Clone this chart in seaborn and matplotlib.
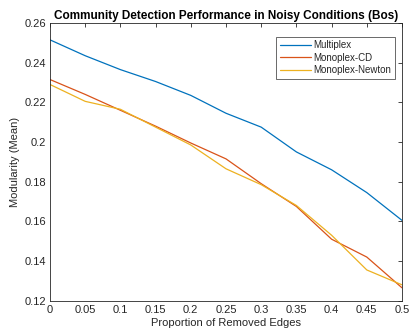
import matplotlib
matplotlib.use("Agg")
import matplotlib.pyplot as plt
import seaborn as sns
import pandas as pd

proportion = [0.0, 0.05, 0.1, 0.15, 0.2, 0.25, 0.3, 0.35, 0.4, 0.45, 0.5]
multiplex = [0.2515, 0.2435, 0.2365, 0.2305, 0.2235, 0.2145, 0.2075, 0.1950, 0.1860, 0.1745, 0.1605]
monoplex_cd = [0.2315, 0.2240, 0.2160, 0.2080, 0.1995, 0.1915, 0.1790, 0.1675, 0.1510, 0.1420, 0.1265]
monoplex_newton = [0.2290, 0.2205, 0.2165, 0.2075, 0.1985, 0.1865, 0.1785, 0.1680, 0.1530, 0.1355, 0.1280]
series_names = ["Multiplex", "Monoplex-CD", "Monoplex-Newton"]
colors = ["#0072BD", "#D95319", "#EDB120"]
x_ticks = [0, 0.05, 0.1, 0.15, 0.2, 0.25, 0.3, 0.35, 0.4, 0.45, 0.5]
x_tick_labels = ["0", "0.05", "0.1", "0.15", "0.2", "0.25", "0.3", "0.35", "0.4", "0.45", "0.5"]
y_ticks = [0.12, 0.14, 0.16, 0.18, 0.2, 0.22, 0.24, 0.26]
y_tick_labels = ["0.12", "0.14", "0.16", "0.18", "0.2", "0.22", "0.24", "0.26"]

rows = []
for name, vals in zip(series_names, [multiplex, monoplex_cd, monoplex_newton]):
    for xv, yv in zip(proportion, vals):
        rows.append({"Proportion": xv, "Modularity": yv, "Method": name})
df = pd.DataFrame(rows)

sns.set_style("white")
plt.rcParams["font.family"] = ["Liberation Sans", "DejaVu Sans"]

fig = plt.figure(figsize=(4.11, 3.35), dpi=100)
ax = fig.add_axes([50 / 411, (335 - 300.7) / 335, 352 / 411, (300.7 - 23) / 335])

sns.lineplot(data=df, x="Proportion", y="Modularity", hue="Method",
             hue_order=series_names, palette=colors, linewidth=0.9, ax=ax)

ax.set_xlim(0, 0.5)
ax.set_ylim(0.12, 0.26)
ax.set_xticks(x_ticks)
ax.set_xticklabels(x_tick_labels)
ax.set_yticks(y_ticks)
ax.set_yticklabels(y_tick_labels)
ax.tick_params(direction="in", length=3, width=0.6, colors="#262626",
               labelsize=8, top=True, right=True, pad=3)
for s in ax.spines.values():
    s.set_visible(True)
    s.set_color("#262626")
    s.set_linewidth(0.6)

ax.set_xlabel("Proportion of Removed Edges", fontsize=8, color="#262626", labelpad=2)
ax.set_ylabel("Modularity (Mean)", fontsize=8, color="#262626", labelpad=3)
ax.set_title("Community Detection Performance in Noisy Conditions (Bos)",
             fontsize=8.5, fontweight="bold", color="black", pad=3)

leg = ax.legend(loc="upper right", bbox_to_anchor=(0.98, 0.95), fontsize=7,
                frameon=True, fancybox=False, edgecolor="#262626",
                handlelength=3.2, handletextpad=0.3, borderpad=0.35,
                labelspacing=0.25, borderaxespad=0)
leg.get_frame().set_linewidth(0.6)

fig.savefig("out.png", dpi=100)
